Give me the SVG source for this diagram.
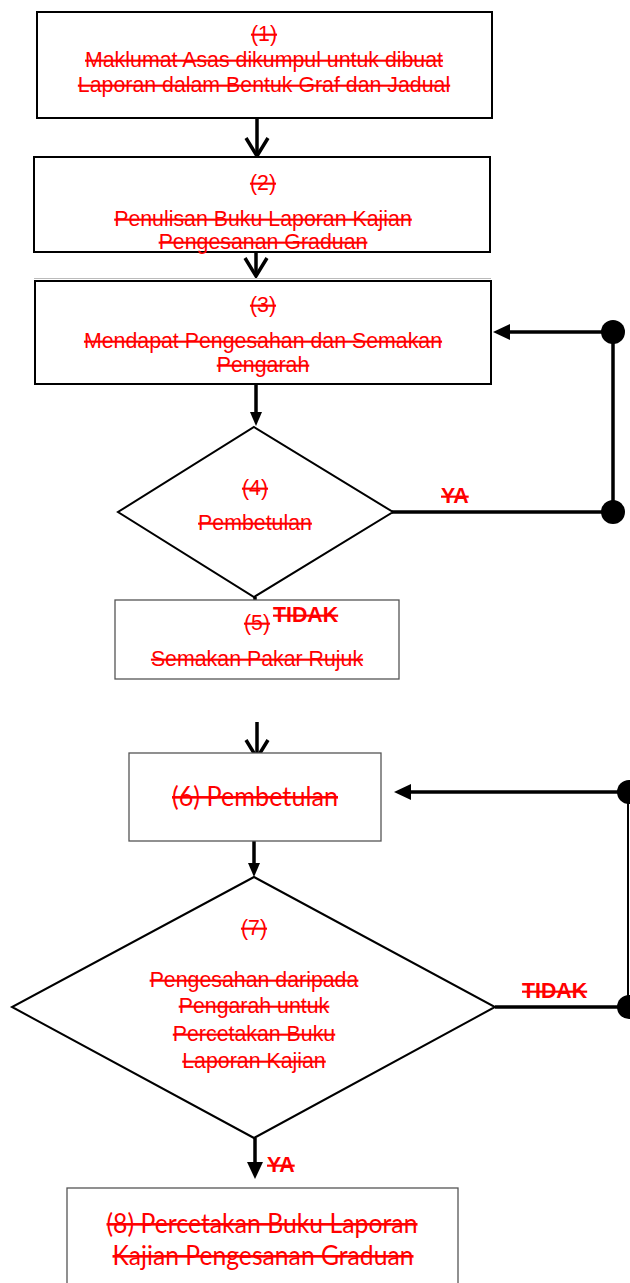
<svg xmlns="http://www.w3.org/2000/svg" width="630" height="1283" viewBox="0 0 630 1283">
<style>
.box{fill:#fff;stroke:#000;stroke-width:2}
.boxg{fill:#fff;stroke:#555;stroke-width:1.3}
.dia{fill:#fff;stroke:#000;stroke-width:2}
.t{font-family:"Liberation Sans",Arial,sans-serif;font-size:21.33px;fill:#f00;text-anchor:middle;text-decoration:line-through}
.b{font-weight:bold;text-anchor:start}
.c{font-family:Lato,"Open Sans",sans-serif;font-size:26px}
.ln{stroke:#000;stroke-width:3.5;fill:none}
.thin{stroke:#000;stroke-width:2;fill:none}
.dot{fill:#000}
</style>
<defs>
<marker id="chev" markerUnits="userSpaceOnUse" viewBox="0 0 22 26" markerWidth="22" markerHeight="26" refX="20" refY="13" orient="auto">
<path d="M2,2 L20,13 L2,24" fill="none" stroke="#000" stroke-width="3.5"/>
</marker>
<marker id="tris" markerUnits="userSpaceOnUse" viewBox="0 0 14 12" markerWidth="14" markerHeight="12" refX="6" refY="6" orient="auto">
<path d="M0,0 L14,6 L0,12 z" fill="#000"/>
</marker>
<marker id="tril" markerUnits="userSpaceOnUse" viewBox="0 0 17 16" markerWidth="17" markerHeight="16" refX="6" refY="8" orient="auto">
<path d="M0,0 L17,8 L0,16 z" fill="#000"/>
</marker>
</defs>

<g id="connectors">
<line x1="34" y1="278.5" x2="491" y2="278.5" stroke="#bbb" stroke-width="1"/>
<line class="ln" x1="257" y1="118" x2="257" y2="156" marker-end="url(#chev)"/>
<line class="ln" x1="256" y1="252" x2="256" y2="276" marker-end="url(#chev)"/>
<line class="ln" x1="256" y1="385" x2="256" y2="418" marker-end="url(#tris)"/>
<line class="ln" x1="392" y1="512" x2="613" y2="512"/>
<line class="ln" x1="613" y1="512" x2="613" y2="332"/>
<line class="ln" x1="613" y1="332" x2="504" y2="332" marker-end="url(#tril)"/>
<circle class="dot" cx="613" cy="332" r="12"/>
<circle class="dot" cx="613" cy="512" r="12"/>
<line class="ln" x1="255" y1="597" x2="255" y2="627" marker-end="url(#tris)"/>
<line class="ln" x1="257" y1="722" x2="257" y2="758" marker-end="url(#chev)"/>
<line class="ln" x1="495" y1="1007" x2="628" y2="1007"/>
<line class="thin" x1="628" y1="1007" x2="628" y2="792"/>
<line class="ln" x1="628" y1="792" x2="405" y2="792" marker-end="url(#tril)"/>
<circle class="dot" cx="629" cy="792" r="12"/>
<circle class="dot" cx="629" cy="1007" r="12"/>
<line class="ln" x1="254" y1="841" x2="254" y2="869" marker-end="url(#tris)"/>
<line class="ln" x1="255" y1="1138" x2="255" y2="1168" marker-end="url(#tril)"/>
<text class="t b" x="441" y="503">YA</text>
<text class="t b" x="522" y="998">TIDAK</text>
<text class="t b" x="267" y="1172">YA</text>
</g>

<g id="n1">
<rect class="box" x="37" y="12" width="455" height="106"/>
<text class="t" x="264" y="41">(1)</text>
<text class="t" x="264" y="67">Maklumat Asas dikumpul untuk dibuat</text>
<text class="t" x="264" y="92">Laporan dalam Bentuk Graf dan Jadual</text>
</g>

<g id="n2">
<rect class="box" x="34" y="157" width="456" height="95"/>
<text class="t" x="263" y="190">(2)</text>
<text class="t" x="263" y="226">Penulisan Buku Laporan Kajian</text>
<text class="t" x="263" y="249">Pengesanan Graduan</text>
</g>

<g id="n3">
<rect class="box" x="35" y="281" width="456" height="103"/>
<text class="t" x="263" y="312">(3)</text>
<text class="t" x="263" y="348">Mendapat Pengesahan dan Semakan</text>
<text class="t" x="263" y="372">Pengarah</text>
</g>

<g id="n4">
<polygon class="dia" points="254,427 393,512 254,597 118,512"/>
<text class="t" x="255" y="495">(4)</text>
<text class="t" x="255" y="530">Pembetulan</text>
</g>

<g id="n5">
<rect class="boxg" x="115" y="600" width="284" height="79"/>
<text class="t" x="257" y="630">(5)</text>
<text class="t b" x="273" y="622">TIDAK</text>
<text class="t" x="257" y="666">Semakan Pakar Rujuk</text>
</g>

<g id="n6">
<rect class="boxg" x="129" y="753" width="252" height="88"/>
<text class="t c" x="255" y="806" textLength="166" lengthAdjust="spacingAndGlyphs">(6) Pembetulan</text>
</g>

<g id="n7">
<polygon class="dia" points="254,877 495,1007 254,1138 12,1007"/>
<text class="t" x="254" y="935">(7)</text>
<text class="t" x="254" y="987">Pengesahan daripada</text>
<text class="t" x="254" y="1013">Pengarah untuk</text>
<text class="t" x="254" y="1041">Percetakan Buku</text>
<text class="t" x="254" y="1068">Laporan Kajian</text>
</g>

<g id="n8">
<rect class="boxg" x="67" y="1188" width="391" height="110"/>
<text class="t c" x="262" y="1233" textLength="311" lengthAdjust="spacingAndGlyphs">(8) Percetakan Buku Laporan</text>
<text class="t c" x="263" y="1265" textLength="301" lengthAdjust="spacingAndGlyphs">Kajian Pengesanan Graduan</text>
</g>
</svg>
